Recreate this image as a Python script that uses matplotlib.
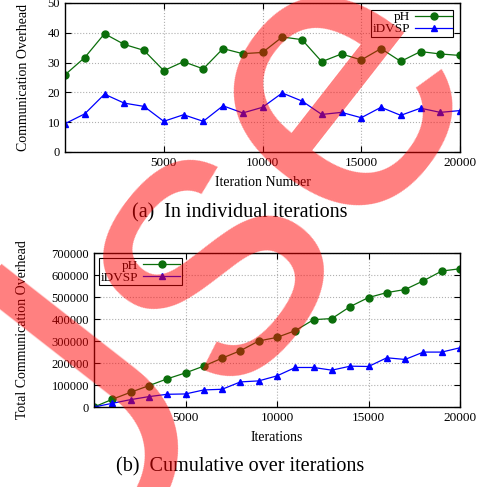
import matplotlib
matplotlib.use("Agg")
import matplotlib.pyplot as plt

plt.rcParams['font.family'] = ['Liberation Serif', 'DejaVu Serif']

# Iterations (x axis for both panels).
iterations = [0, 1000, 2000, 3000, 4000, 5000, 6000, 7000, 8000, 9000, 10000,
              11000, 12000, 13000, 14000, 15000, 16000, 17000, 18000, 19000, 20000]

# (a) overhead per iteration.
ph_iter = [25.9, 31.7, 39.7, 36.1, 34.1, 27.3, 30.3, 27.9, 34.7, 33.0, 33.4,
           38.6, 37.7, 30.3, 32.9, 30.9, 34.7, 30.4, 33.7, 32.9, 32.4]
idvsp_iter = [9.5, 12.8, 19.4, 16.4, 15.3, 10.3, 12.5, 10.3, 15.5, 13.1, 15.0,
              19.8, 17.1, 12.6, 13.3, 11.5, 15.0, 12.3, 14.7, 13.3, 13.9]

# (b) cumulative overhead.
ph_cum = [0, 35000, 67000, 97000, 128000, 155000, 186000, 222000, 256000, 300000, 316500,
          347000, 397000, 402000, 456500, 497600, 520000, 534000, 573700, 617800, 628500]
idvsp_cum = [0, 16700, 33500, 47200, 57800, 59300, 77600, 80600, 114000, 118700, 141500,
             179600, 179600, 167400, 185600, 184100, 223700, 216100, 249600, 249600, 269300]

green = '#0b6e0b'
blue = '#0000ff'

W, H = 483, 487
fig = plt.figure(figsize=(W / 100, H / 100), dpi=100)


def px_axes(left, top, right, bottom):
    return fig.add_axes([left / W, 1 - bottom / H, (right - left) / W, (bottom - top) / H])


def style(ax):
    ax.grid(True, color='#b0b0b0', linestyle=':', linewidth=0.8)
    ax.tick_params(direction='in', top=True, right=True, labelsize=9, length=4)
    ax.tick_params(axis='x', labelsize=9.5)
    for s in ax.spines.values():
        s.set_linewidth(1.0)
    ax.set_xlim(0, 20000)
    ax.set_xticks([5000, 10000, 15000, 20000])


legend_kw = dict(markerfirst=False, fontsize=9.5, frameon=True, fancybox=False,
                 edgecolor='black', framealpha=1, borderpad=0.1, labelspacing=0.0,
                 handlelength=2.8, handletextpad=0.4)

# Top panel
ax1 = px_axes(65, 3, 460, 152)
ax1.plot(iterations, ph_iter, color=green, marker='o', markersize=5, linewidth=0.9, label='pH')
ax1.plot(iterations, idvsp_iter, color=blue, marker='^', markersize=4.5, linewidth=0.9, label='iDVSP')
style(ax1)
ax1.set_ylim(0, 50)
ax1.set_yticks([0, 10, 20, 30, 40, 50])
ax1.set_xlabel('Iteration Number', fontsize=10, labelpad=5)
ax1.set_ylabel('Communication Overhead', fontsize=10, labelpad=13)
leg1 = ax1.legend(loc='upper right', borderaxespad=0.5, **legend_kw)
leg1.get_frame().set_linewidth(0.8)
fig.text(240 / W, 1 - 213 / H, '(a)  In individual iterations', ha='center', va='center', fontsize=14.5)

# Bottom panel
ax2 = px_axes(94, 253, 460, 407)
ax2.plot(iterations, ph_cum, color=green, marker='o', markersize=5, linewidth=0.9, label='pH')
ax2.plot(iterations, idvsp_cum, color=blue, marker='^', markersize=4.5, linewidth=0.9, label='iDVSP')
style(ax2)
ax2.set_ylim(0, 700000)
ax2.set_yticks(range(0, 700001, 100000))
ax2.set_xlabel('Iterations', fontsize=10, labelpad=5)
ax2.set_ylabel('Total Communication Overhead', fontsize=10, labelpad=16)
leg2 = ax2.legend(loc='upper left', borderaxespad=0.4, **legend_kw)
leg2.get_frame().set_linewidth(0.8)
fig.text(240 / W, 1 - 467 / H, '(b)  Cumulative over iterations', ha='center', va='center', fontsize=14.5)

# Watermark
fig.text(0.38, 0.45, 'Use', rotation=52, fontsize=285, color='red', alpha=0.5,
         ha='center', va='center', family=['Liberation Sans Narrow', 'Liberation Sans'])

fig.savefig('out.png', dpi=100)
